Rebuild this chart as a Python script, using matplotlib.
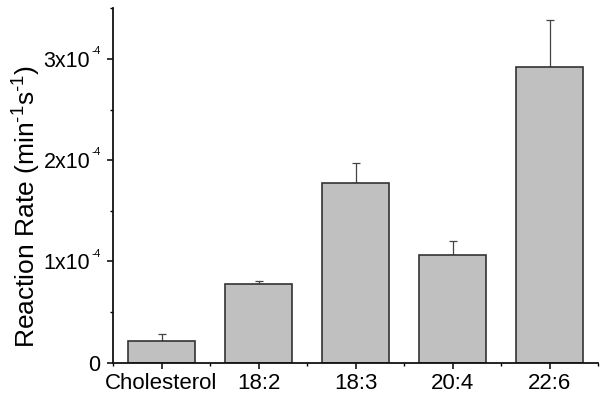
import numpy as np
import matplotlib.pyplot as plt
from matplotlib.ticker import MultipleLocator, FixedLocator, NullFormatter

plt.rcParams['font.family'] = ['Liberation Sans', 'DejaVu Sans']
plt.rcParams['mathtext.fontset'] = 'custom'
plt.rcParams['mathtext.rm'] = 'Liberation Sans'
plt.rcParams['mathtext.it'] = 'Liberation Sans'

# values, in units of 1e-4
labels = ['Cholesterol', '18:2', '18:3', '20:4', '22:6']
rate = [0.215, 0.78, 1.775, 1.06, 2.92]
err = [0.065, 0.03, 0.195, 0.14, 0.46]
yticks = [0, 1, 2, 3]

rate = np.array(rate) * 1e-4
err = np.array(err) * 1e-4
x = np.arange(len(labels))

fig = plt.figure(figsize=(6.04, 4.01), dpi=100)
ax = fig.add_axes([113/604, 1 - 362.7/401, (598 - 113)/604, (362.7 - 8.3)/401])

ax.bar(x, rate, width=0.7, color='#c0c0c0', edgecolor='#333333', linewidth=1.2, zorder=2)
ax.errorbar(x, rate, yerr=[np.zeros_like(err), err], fmt='none', ecolor='#444444',
            elinewidth=0.9, capsize=3, capthick=0.9, zorder=1)

ax.set_xlim(-0.5, 4.5)
ax.set_ylim(0, 3.5e-4)

ax.set_xticks(x)
ax.set_xticklabels(labels)
ax.xaxis.set_minor_locator(FixedLocator(np.arange(-0.5, 4.6, 1)))

ax.set_yticks([t * 1e-4 for t in yticks])
ax.yaxis.set_minor_locator(MultipleLocator(0.5e-4))
ax.yaxis.set_major_formatter(NullFormatter())

# y tick labels like "3x10" with a small raised "-4"
for t in yticks:
    if t == 0:
        ax.annotate('0', (0, 0), xycoords=('axes fraction', 'data'),
                    xytext=(-9.4, 0), textcoords='offset points',
                    ha='right', va='center_baseline', fontsize=15.5)
        continue
    ax.annotate('%dx10' % t, (0, t * 1e-4), xycoords=('axes fraction', 'data'),
                xytext=(-16.4, 0), textcoords='offset points',
                ha='right', va='center_baseline', fontsize=15.5)
    ax.annotate('-4', (0, t * 1e-4), xycoords=('axes fraction', 'data'),
                xytext=(-15.6, 9.2), textcoords='offset points',
                ha='left', va='top', fontsize=7.5)

for s in ['top', 'right']:
    ax.spines[s].set_visible(False)
for s in ['left', 'bottom']:
    ax.spines[s].set_linewidth(1.3)
    ax.spines[s].set_color('#111111')

ax.tick_params(which='major', direction='out', length=4.5, width=1.1, labelsize=16, pad=3)
ax.tick_params(which='minor', direction='out', length=2.5, width=1.0)

ax.set_ylabel(r'Reaction Rate (min$^{\mathregular{\text{-}1}}$s$^{\mathregular{\text{-}1}}$)', fontsize=19)
ax.yaxis.set_label_coords(-0.145, 0.442)

fig.savefig('out.png', dpi=100)
